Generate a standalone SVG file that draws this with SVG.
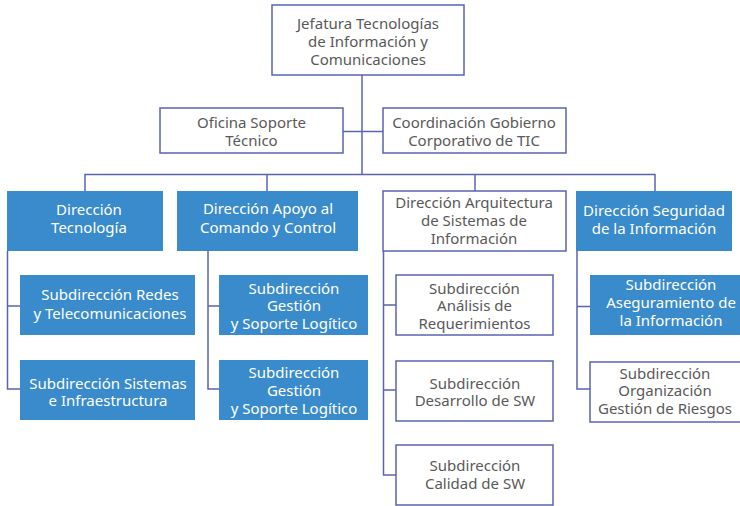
<svg xmlns="http://www.w3.org/2000/svg" width="740" height="506" viewBox="0 0 740 506">
<style>
.w{fill:#ffffff;stroke:#5a64ad;stroke-width:1.5}
.b{fill:#3a8bcb}
.t{font-family:"Noto Sans","Open Sans","DejaVu Sans",sans-serif;font-size:15px;text-anchor:middle}
.tg{fill:#595959}
.tw{fill:#ffffff}
.c{fill:none;stroke:#5a64ad;stroke-width:1.5}
</style>
<rect width="740" height="506" fill="#ffffff"/>
<g id="connectors">
<path class="c" d="M362 75V175"/>
<path class="c" d="M343 131.5H383"/>
<path class="c" d="M85 191V174.5H655V191"/>
<path class="c" d="M267 174.5V191"/>
<path class="c" d="M475 174.5V191"/>
<path class="c" d="M7.5 251V389H20M7.5 306H20"/>
<path class="c" d="M208 251V389H219M208 306H219"/>
<path class="c" d="M383.5 251V475H396M383.5 305H396M383.5 390H396"/>
<path class="c" d="M577 251V389H590M577 306.5H590"/>
</g>
<g id="jefatura">
<rect class="w" x="272" y="5" width="192" height="70"/>
<text class="t tg" x="368"><tspan x="368" y="29">Jefatura Tecnologías</tspan><tspan x="368" y="47">de Información y</tspan><tspan x="368" y="65">Comunicaciones</tspan></text>
</g>
<g id="oficina">
<rect class="w" x="160" y="108" width="183" height="45"/>
<text class="t tg"><tspan x="251.5" y="128">Oficina Soporte</tspan><tspan x="251.5" y="146">Técnico</tspan></text>
</g>
<g id="coordinacion">
<rect class="w" x="383" y="108" width="183" height="45"/>
<text class="t tg"><tspan x="474" y="128">Coordinación Gobierno</tspan><tspan x="474" y="146">Corporativo de TIC</tspan></text>
</g>
<g id="dir-tecnologia">
<rect class="b" x="7" y="191" width="156" height="60"/>
<text class="t tw"><tspan x="89" y="215">Dirección</tspan><tspan x="89" y="233">Tecnología</tspan></text>
</g>
<g id="dir-apoyo">
<rect class="b" x="177" y="191" width="181" height="60"/>
<text class="t tw"><tspan x="268" y="214">Dirección Apoyo al</tspan><tspan x="268" y="232.5">Comando y Control</tspan></text>
</g>
<g id="dir-arquitectura">
<rect class="w" x="383" y="191" width="183" height="60"/>
<text class="t tg"><tspan x="474" y="208">Dirección Arquitectura</tspan><tspan x="474" y="226">de Sistemas de</tspan><tspan x="474" y="243.5">Información</tspan></text>
</g>
<g id="dir-seguridad">
<rect class="b" x="576" y="191" width="156" height="60"/>
<text class="t tw"><tspan x="654" y="216">Dirección Seguridad</tspan><tspan x="654" y="234">de la Información</tspan></text>
</g>
<g id="sub-redes">
<rect class="b" x="20" y="275" width="175" height="60"/>
<text class="t tw"><tspan x="110" y="300">Subdirección Redes</tspan><tspan x="110" y="318.5">y Telecomunicaciones</tspan></text>
</g>
<g id="sub-sistemas">
<rect class="b" x="20" y="360" width="175" height="60"/>
<text class="t tw"><tspan x="108" y="388.5">Subdirección Sistemas</tspan><tspan x="108" y="406">e Infraestructura</tspan></text>
</g>
<g id="sub-gestion-1">
<rect class="b" x="219" y="275" width="149" height="60"/>
<text class="t tw"><tspan x="294" y="293.5">Subdirección</tspan><tspan x="294" y="311">Gestión</tspan><tspan x="294" y="329">y Soporte Logítico</tspan></text>
</g>
<g id="sub-gestion-2">
<rect class="b" x="219" y="360" width="149" height="60"/>
<text class="t tw"><tspan x="294" y="377.5">Subdirección</tspan><tspan x="294" y="395.5">Gestión</tspan><tspan x="294" y="413.5">y Soporte Logítico</tspan></text>
</g>
<g id="sub-analisis">
<rect class="w" x="396" y="275" width="157" height="60"/>
<text class="t tg"><tspan x="474.5" y="293.5">Subdirección</tspan><tspan x="474.5" y="311">Análisis de</tspan><tspan x="474.5" y="329">Requerimientos</tspan></text>
</g>
<g id="sub-desarrollo">
<rect class="w" x="396" y="361" width="157" height="60"/>
<text class="t tg"><tspan x="475" y="388.5">Subdirección</tspan><tspan x="475" y="406">Desarrollo de SW</tspan></text>
</g>
<g id="sub-calidad">
<rect class="w" x="396" y="445" width="157" height="60"/>
<text class="t tg"><tspan x="475" y="471">Subdirección</tspan><tspan x="475" y="489">Calidad de SW</tspan></text>
</g>
<g id="sub-aseguramiento">
<rect class="b" x="590" y="275" width="150" height="60"/>
<text class="t tw"><tspan x="671" y="290">Subdirección</tspan><tspan x="671" y="308">Aseguramiento de</tspan><tspan x="671" y="326">la Información</tspan></text>
</g>
<g id="sub-organizacion">
<rect class="w" x="590" y="362" width="152" height="60"/>
<text class="t tg"><tspan x="665" y="378.5">Subdirección</tspan><tspan x="665" y="396">Organización</tspan><tspan x="665" y="414">Gestión de Riesgos</tspan></text>
</g>
</svg>
